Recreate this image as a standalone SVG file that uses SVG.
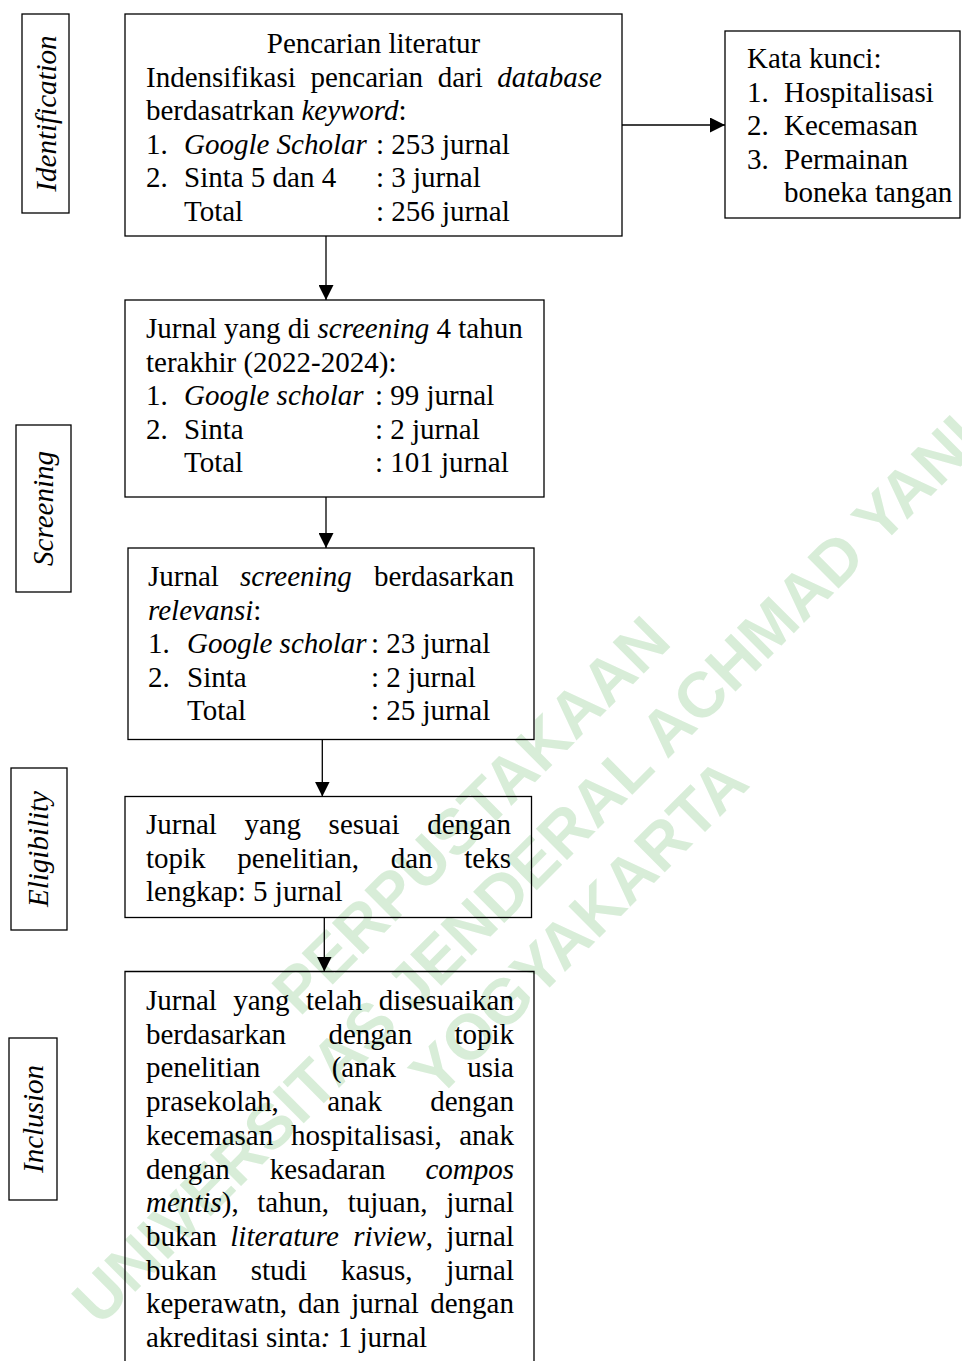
<svg xmlns="http://www.w3.org/2000/svg" width="962" height="1361" viewBox="0 0 962 1361">
<style>
.t{font-family:"Liberation Serif","Times New Roman",serif;font-size:29px;fill:#000}
.i{font-style:italic}
.box{fill:none;stroke:#000;stroke-width:1.3}
.ln{fill:none;stroke:#000;stroke-width:1.3}
.wm{font-family:"Liberation Sans",Arial,sans-serif;font-weight:bold;font-size:64px;fill:#d8edd8}
.e{text-anchor:end}
.m{text-anchor:middle}
</style>
<defs>
<marker id="ah" viewBox="0 0 10 10" refX="10" refY="5" markerWidth="15" markerHeight="15" markerUnits="userSpaceOnUse" orient="auto">
<path d="M0,0 L10,5 L0,10 z" fill="#000"/>
</marker>
</defs>
<rect width="962" height="1361" fill="#fff"/>
<g id="watermark">
<text class="wm" text-anchor="middle" transform="translate(470.2,814.4) rotate(-45)" y="23">PERPUSTAKAAN</text>
<text class="wm" text-anchor="middle" transform="translate(525.5,869) rotate(-45)" y="23">UNIVERSITAS JENDERAL ACHMAD YANI</text>
<text class="wm" text-anchor="middle" transform="translate(578,926.5) rotate(-45)" y="23">YOGYAKARTA</text>
</g>
<g id="label-identification">
<rect class="box" x="22" y="14" width="47" height="199"/>
<text class="t i m" transform="translate(45.5,113.5) rotate(-90)" y="10">Identification</text>
</g>
<g id="label-screening">
<rect class="box" x="16" y="425" width="55" height="167"/>
<text class="t i m" transform="translate(43.5,508.5) rotate(-90)" y="9">Screening</text>
</g>
<g id="label-eligibility">
<rect class="box" x="11" y="768" width="56" height="162"/>
<text class="t i m" transform="translate(39,849) rotate(-90)" y="9">Eligibility</text>
</g>
<g id="label-inclusion">
<rect class="box" x="9" y="1038" width="48" height="162"/>
<text class="t i m" transform="translate(33,1119) rotate(-90)" y="10">Inclusion</text>
</g>
<g id="node-identification">
<rect class="box" x="125" y="14" width="497" height="222"/>
<text class="t m" x="373.5" y="53">Pencarian literatur</text>
<text class="t" y="86.5"><tspan x="146">Indensifikasi</tspan><tspan x="310.4">pencarian</tspan><tspan x="437.7">dari</tspan><tspan x="602" class="i e">database</tspan></text>
<text class="t" x="146" y="120">berdasatrkan <tspan class="i">keyword</tspan>:</text>
<text class="t" y="153.5"><tspan x="146">1.</tspan><tspan x="184" class="i">Google Scholar</tspan><tspan x="376">: 253 jurnal</tspan></text>
<text class="t" y="187"><tspan x="146">2.</tspan><tspan x="184">Sinta 5 dan 4</tspan><tspan x="376">: 3 jurnal</tspan></text>
<text class="t" y="220.5"><tspan x="184">Total</tspan><tspan x="376">: 256 jurnal</tspan></text>
</g>
<g id="node-keywords">
<rect class="box" x="725" y="31" width="235" height="187"/>
<text class="t" x="747" y="68">Kata kunci:</text>
<text class="t" y="101.7"><tspan x="747">1.</tspan><tspan x="784">Hospitalisasi</tspan></text>
<text class="t" y="135"><tspan x="747">2.</tspan><tspan x="784">Kecemasan</tspan></text>
<text class="t" y="168.7"><tspan x="747">3.</tspan><tspan x="784">Permainan</tspan></text>
<text class="t" x="784" y="202">boneka tangan</text>
</g>
<g id="node-screening-year">
<rect class="box" x="125" y="300" width="419" height="197"/>
<text class="t" x="146" y="338">Jurnal yang di <tspan class="i">screening</tspan> 4 tahun</text>
<text class="t" x="146" y="371.5">terakhir (2022-2024):</text>
<text class="t" y="405"><tspan x="146">1.</tspan><tspan x="184" class="i">Google scholar</tspan><tspan x="375">: 99 jurnal</tspan></text>
<text class="t" y="438.5"><tspan x="146">2.</tspan><tspan x="184">Sinta</tspan><tspan x="375">: 2 jurnal</tspan></text>
<text class="t" y="472"><tspan x="184">Total</tspan><tspan x="375">: 101 jurnal</tspan></text>
</g>
<g id="node-screening-relevance">
<rect class="box" x="128" y="548" width="406" height="191.5"/>
<text class="t" y="586"><tspan x="148">Jurnal</tspan><tspan x="240" class="i">screening</tspan><tspan x="514" class="e">berdasarkan</tspan></text>
<text class="t" x="148" y="619.5"><tspan class="i">relevansi</tspan>:</text>
<text class="t" y="653"><tspan x="148">1.</tspan><tspan x="187" class="i">Google scholar</tspan><tspan x="371">: 23 jurnal</tspan></text>
<text class="t" y="686.5"><tspan x="148">2.</tspan><tspan x="187">Sinta</tspan><tspan x="371">: 2 jurnal</tspan></text>
<text class="t" y="720"><tspan x="187">Total</tspan><tspan x="371">: 25 jurnal</tspan></text>
</g>
<g id="node-eligibility">
<rect class="box" x="125" y="796.5" width="406.5" height="121"/>
<text class="t" y="834"><tspan x="146">Jurnal</tspan><tspan x="244.6">yang</tspan><tspan x="328.6">sesuai</tspan><tspan x="511" class="e">dengan</tspan></text>
<text class="t" y="867.5"><tspan x="146">topik</tspan><tspan x="237.3">penelitian,</tspan><tspan x="390.7">dan</tspan><tspan x="511" class="e">teks</tspan></text>
<text class="t" x="146" y="901">lengkap: 5 jurnal</text>
</g>
<g id="node-inclusion">
<path class="box" d="M125,1362 V971.5 H534 V1362"/>
<text class="t" y="1010"><tspan x="146">Jurnal</tspan><tspan x="233.2">yang</tspan><tspan x="305.9">telah</tspan><tspan x="514" class="e">disesuaikan</tspan></text>
<text class="t" y="1043.7"><tspan x="146">berdasarkan</tspan><tspan x="328.4">dengan</tspan><tspan x="514" class="e">topik</tspan></text>
<text class="t" y="1077.4"><tspan x="146">penelitian</tspan><tspan x="331.7">(anak</tspan><tspan x="514" class="e">usia</tspan></text>
<text class="t" y="1111.1"><tspan x="146">prasekolah,</tspan><tspan x="327.2">anak</tspan><tspan x="514" class="e">dengan</tspan></text>
<text class="t" y="1144.8"><tspan x="146">kecemasan</tspan><tspan x="291">hospitalisasi,</tspan><tspan x="514" class="e">anak</tspan></text>
<text class="t" y="1178.5"><tspan x="146">dengan</tspan><tspan x="269.7">kesadaran</tspan><tspan x="514" class="i e">compos</tspan></text>
<text class="t" y="1212.2"><tspan x="146" class="i">mentis</tspan><tspan>),</tspan><tspan x="257.3">tahun,</tspan><tspan x="347.7">tujuan,</tspan><tspan x="514" class="e">jurnal</tspan></text>
<text class="t" y="1245.9"><tspan x="146">bukan</tspan><tspan x="230.3" class="i">literature</tspan><tspan x="353.3" class="i">riview</tspan><tspan>,</tspan><tspan x="514" class="e">jurnal</tspan></text>
<text class="t" y="1279.6"><tspan x="146">bukan</tspan><tspan x="250.7">studi</tspan><tspan x="340.9">kasus,</tspan><tspan x="514" class="e">jurnal</tspan></text>
<text class="t" y="1313.3"><tspan x="146">keperawatn,</tspan><tspan x="298.1">dan</tspan><tspan x="351.2">jurnal</tspan><tspan x="514" class="e">dengan</tspan></text>
<text class="t" x="146" y="1347">akreditasi sinta<tspan class="i">:</tspan> 1 jurnal</text>
</g>
<g id="connectors">
<line class="ln" x1="326" y1="236" x2="326" y2="300" marker-end="url(#ah)"/>
<line class="ln" x1="622" y1="125" x2="725" y2="125" marker-end="url(#ah)"/>
<line class="ln" x1="326" y1="497" x2="326" y2="548" marker-end="url(#ah)"/>
<line class="ln" x1="322.3" y1="739.5" x2="322.3" y2="796.5" marker-end="url(#ah)"/>
<line class="ln" x1="324.3" y1="917.5" x2="324.3" y2="971.5" marker-end="url(#ah)"/>
</g>
</svg>
